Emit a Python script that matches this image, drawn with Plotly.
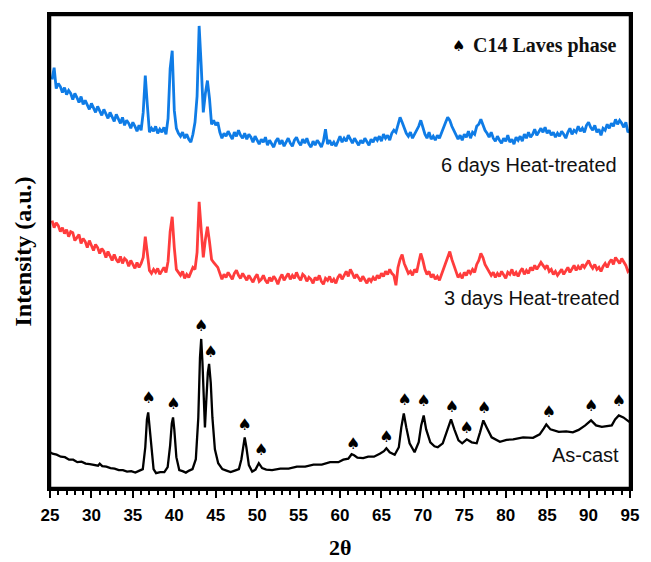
import plotly.graph_objects as go

# ---------------- data ----------------
two_theta_ht = [
    25.25, 25.5, 25.75,
    26, 26.25, 26.5, 26.75, 27, 27.25, 27.5, 27.75, 28, 28.25, 28.5, 28.75,
    29, 29.25, 29.5, 29.75, 30, 30.25, 30.5, 30.75, 31, 31.25, 31.5, 31.75,
    32, 32.25, 32.5, 32.75, 33, 33.25, 33.5, 33.75, 34, 34.25, 34.5, 34.75,
    35, 35.25, 35.5, 35.75, 36, 36.25, 36.5, 36.75, 37, 37.25, 37.5, 37.75,
    38, 38.25, 38.5, 38.75, 39, 39.25, 39.5, 39.75, 40, 40.25, 40.5, 40.75,
    41, 41.25, 41.5, 41.75, 42, 42.25, 42.5, 42.75, 43, 43.25, 43.5, 43.75,
    44, 44.25, 44.5, 44.75, 45, 45.25, 45.5, 45.75, 46, 46.25, 46.5, 46.75,
    47, 47.25, 47.5, 47.75, 48, 48.25, 48.5, 48.75, 49, 49.25, 49.5, 49.75,
    50, 50.25, 50.5, 50.75, 51, 51.25, 51.5, 51.75, 52, 52.25, 52.5, 52.75,
    53, 53.25, 53.5, 53.75, 54, 54.25, 54.5, 54.75, 55, 55.25, 55.5, 55.75,
    56, 56.25, 56.5, 56.75, 57, 57.25, 57.5, 57.75, 58, 58.25, 58.5, 58.75,
    59, 59.25, 59.5, 59.75, 60, 60.25, 60.5, 60.75, 61, 61.25, 61.5, 61.75,
    62, 62.25, 62.5, 62.75, 63, 63.25, 63.5, 63.75, 64, 64.25, 64.5, 64.75,
    65, 65.25, 65.5, 65.75, 66, 66.25, 66.5, 66.75, 67, 67.25, 67.5, 67.75,
    68, 68.25, 68.5, 68.75, 69, 69.25, 69.5, 69.75, 70, 70.25, 70.5, 70.75,
    71, 71.25, 71.5, 71.75, 72, 72.25, 72.5, 72.75, 73, 73.25, 73.5, 73.75,
    74, 74.25, 74.5, 74.75, 75, 75.25, 75.5, 75.75, 76, 76.25, 76.5, 76.75,
    77, 77.25, 77.5, 77.75, 78, 78.25, 78.5, 78.75, 79, 79.25, 79.5, 79.75,
    80, 80.25, 80.5, 80.75, 81, 81.25, 81.5, 81.75, 82, 82.25, 82.5, 82.75,
    83, 83.25, 83.5, 83.75, 84, 84.25, 84.5, 84.75, 85, 85.25, 85.5, 85.75,
    86, 86.25, 86.5, 86.75, 87, 87.25, 87.5, 87.75, 88, 88.25, 88.5, 88.75,
    89, 89.25, 89.5, 89.75, 90, 90.25, 90.5, 90.75, 91, 91.25, 91.5, 91.75,
    92, 92.25, 92.5, 92.75, 93, 93.25, 93.5, 93.75, 94, 94.25, 94.5, 94.75,
    95,
]

heat_treated_3_days = [
    268, 261, 266,
    263, 257, 261, 255, 259, 252, 257, 256, 248, 251, 254, 245,
    250, 247, 241, 248, 243, 238, 244, 241, 235, 240, 237, 231,
    237, 233, 228, 234, 229, 226, 232, 225, 230, 228, 222, 228,
    224, 220, 226, 221, 225, 231, 252, 233, 218, 215, 219, 216,
    220, 214, 218, 221, 216, 227, 257, 272, 241, 219, 216, 213,
    217, 210, 214, 211, 216, 221, 219, 236, 287, 263, 231, 249,
    262, 247, 229, 226, 224, 221, 215, 209, 214, 211, 216, 212,
    209, 215, 218, 213, 210, 215, 212, 208, 213, 210, 206, 211,
    214, 207, 209, 213, 208, 205, 211, 207, 212, 209, 204, 210,
    214, 208, 212, 215, 209, 213, 210, 216, 211, 208, 214, 212,
    207, 211, 209, 205, 211, 208, 213, 207, 204, 210, 208, 212,
    206, 209, 205, 211, 214, 209, 213, 217, 212, 219, 215, 210,
    214, 211, 207, 212, 209, 205, 210, 207, 211, 208, 213, 210,
    215, 212, 217, 214, 219, 215, 213, 203, 221, 229, 234, 225,
    220, 215, 217, 213, 219, 216, 226, 235, 228, 219, 214, 217,
    211, 214, 209, 212, 208, 214, 220, 225, 231, 237, 229, 223,
    217, 211, 214, 210, 216, 213, 218, 215, 219, 216, 224, 228,
    235, 231, 224, 220, 217, 213, 216, 211, 215, 212, 217, 213,
    210, 216, 214, 219, 213, 216, 212, 217, 220, 214, 218, 215,
    221, 218, 223, 219, 222, 226, 223, 220, 223, 217, 219, 214,
    217, 213, 216, 219, 214, 218, 221, 216, 220, 223, 218, 222,
    219, 224, 221, 225, 228, 223, 220, 224, 219, 221, 217, 222,
    225, 221, 226, 229, 224, 231, 228, 225, 230, 226, 223, 217,
    219,
]

heat_treated_6_days = [
    410, 422, 401,
    406, 403, 397, 402, 395, 399, 396, 390, 396, 392, 387, 393,
    385, 389, 384, 380, 386, 382, 377, 383, 378, 374, 380, 376,
    371, 377, 373, 368, 375, 370, 366, 372, 364, 369, 366, 361,
    367, 363, 358, 364, 359, 377, 414, 384, 357, 361, 358, 363,
    356, 360, 357, 362, 355, 371, 421, 439, 379, 361, 356, 353,
    357, 351, 355, 350, 347, 355, 367, 393, 464, 424, 377, 396,
    409, 391, 365, 369, 364, 367, 357, 351, 356, 353, 358, 354,
    350, 357, 353, 359, 354, 351, 356, 350, 355, 352, 347, 353,
    349, 345, 350, 347, 352, 344, 349, 345, 342, 348, 351, 345,
    349, 343, 347, 351, 346, 343, 349, 352, 347, 344, 350, 346,
    351, 345, 342, 348, 344, 349, 346, 342, 348, 360, 345, 349,
    344, 347, 343, 349, 353, 347, 351, 348, 354, 350, 346, 351,
    347, 344, 349, 346, 351, 348, 344, 350, 347, 352, 349, 353,
    348, 355, 351, 354, 349, 356, 359, 357, 365, 372, 367, 361,
    356, 353, 357, 351, 355, 358, 363, 369, 361, 355, 351, 357,
    350, 353, 349, 354, 351, 357, 361, 367, 372, 369, 363, 359,
    355, 350, 354, 349, 355, 352, 358, 351, 357, 355, 363, 365,
    370, 365, 359, 356, 352, 357, 351, 348, 353, 349, 346, 351,
    348, 354, 347, 350, 345, 352, 349, 353, 348, 355, 351, 357,
    352, 355, 360, 354, 358, 361, 357, 362, 356, 359, 354, 357,
    352, 356, 353, 358, 355, 351, 357, 361, 355, 359, 357, 363,
    358, 361, 357, 364, 367, 362, 359, 364, 357, 360, 354, 361,
    359, 365, 361, 366, 363, 370, 365, 369, 366, 362, 367, 357,
    359,
]

two_theta_cast = [
    25.0, 25.3, 25.8, 26.3, 26.8, 27.3, 27.8, 28.3, 28.8, 29.3,
    29.8, 30.3, 30.8, 31.0, 31.3, 31.8, 32.3, 32.8, 33.3, 33.8,
    34.3, 34.8, 35.3, 35.8, 36.2, 36.5, 36.7, 36.85, 37.0, 37.2,
    37.5, 37.8, 38.3, 38.8, 39.2, 39.5, 39.7, 39.85, 40.0, 40.25,
    40.6, 41.0, 41.4, 41.8, 42.2, 42.6, 42.9, 43.1, 43.25, 43.4,
    43.55, 43.7, 43.85, 44.05, 44.2, 44.4, 44.6, 44.9, 45.3, 45.8,
    46.3, 46.8, 47.3, 47.8, 48.1, 48.35, 48.5, 48.7, 49.0, 49.4,
    49.8, 50.2, 50.6, 51.1, 51.8, 52.8, 53.8, 54.8, 55.8, 56.8,
    57.8, 58.8, 59.8, 60.4, 61.0, 61.4, 61.7, 62.1, 62.8, 63.4,
    64.1, 64.8, 65.3, 65.6, 66.0, 66.6, 67.1, 67.4, 67.7, 68.0,
    68.4, 69.0, 69.5, 69.8, 70.1, 70.4, 70.9, 71.4, 71.8, 72.4,
    72.9, 73.4, 73.8, 74.3, 74.75, 75.3, 75.9, 76.5, 76.9, 77.3,
    77.7, 78.3, 79.3, 80.1, 80.9, 82.1, 83.3, 84.1, 84.6, 84.9,
    85.4, 86.4, 87.3, 88.1, 88.8, 89.6, 90.3, 90.9, 91.6, 92.2,
    92.8, 93.2, 93.65, 94.2, 95.0,
]

as_cast = [
    35, 33.5, 32.5, 30.5, 30, 27.5, 27.5, 25, 25.5, 23.5,
    23, 22.5, 21.5, 23.5, 21, 20.5, 19, 18.5, 17, 17,
    15.5, 16, 14.5, 16.5, 18, 40, 68, 75, 62, 38,
    18, 14, 15, 15, 20, 42, 64, 70, 58, 30,
    17, 16, 14.5, 16.5, 18, 28, 70, 130, 149, 125,
    80, 60, 85, 115, 124, 105, 70, 38, 24, 18,
    16.5, 15, 16.5, 18, 28, 45, 50, 40, 22, 15.5,
    17.5, 24, 19, 17.5, 17, 18.5, 18.5, 20.5, 20.5, 22.5,
    22.5, 25, 25, 27.5, 28.5, 33, 32, 29.5, 29, 30.5,
    30.5, 33.5, 36, 39, 35, 32.5, 40, 60, 74, 60,
    44, 35, 45, 62, 72, 58, 45, 41, 40, 44,
    55, 68, 58, 47, 44, 48, 45, 44, 55, 67,
    60, 50, 45.5, 47.5, 48, 50, 49.5, 53, 59, 63,
    58, 55.5, 56, 55, 57.5, 62, 67, 62, 60.5, 61,
    62, 68, 72, 70, 65,
]

laves_peak_x = [36.9, 39.9, 43.25, 44.4, 48.5, 50.5, 61.6, 65.6,
                67.8, 70.1, 73.5, 75.3, 77.4, 85.2, 90.3, 93.65]
laves_marker_y = [88.7, 82.7, 161, 134.7, 61, 36.3, 42, 49.7,
                  87, 85.3, 79.3, 58.7, 78.7, 74.3, 80.3, 85.3]

x_ticks = [25, 30, 35, 40, 45, 50, 55, 60, 65, 70, 75, 80, 85, 90, 95]
series_labels = ["6 days Heat-treated", "3 days Heat-treated", "As-cast"]
series_label_x = [93.66, 94.06, 93.86]
series_label_y = [324, 190, 32]

assert len(two_theta_ht) == len(heat_treated_3_days) == len(heat_treated_6_days)
assert len(two_theta_cast) == len(as_cast)
assert len(laves_peak_x) == len(laves_marker_y)

# ---------------- figure ----------------
fig = go.Figure()

fig.add_trace(go.Scatter(x=two_theta_ht, y=heat_treated_6_days, mode="lines",
                         line=dict(color="#0f7ce6", width=2.8), name="6 days"))
fig.add_trace(go.Scatter(x=two_theta_ht, y=heat_treated_3_days, mode="lines",
                         line=dict(color="#ff3c3c", width=2.8), name="3 days"))
fig.add_trace(go.Scatter(x=two_theta_cast, y=as_cast, mode="lines",
                         line=dict(color="#000000", width=2.3), name="As-cast"))
fig.add_trace(go.Scatter(x=laves_peak_x, y=laves_marker_y, mode="text",
                         text=["\u2660"] * len(laves_peak_x),
                         textposition="middle center",
                         textfont=dict(family="DejaVu Sans", size=16, color="black"),
                         name="C14"))

serif = "Liberation Serif, Times New Roman, serif"
sans = "Liberation Sans, Arial, sans-serif"

for txt, xx, yy in zip(series_labels, series_label_x, series_label_y):
    fig.add_annotation(x=xx, y=yy, xref="x", yref="y", text=txt,
                       showarrow=False, xanchor="right", yanchor="middle",
                       font=dict(family=sans, size=20, color="#111111"))

fig.add_annotation(x=93.5, y=444, xref="x", yref="y",
                   text="<b>C14 Laves phase</b>", showarrow=False,
                   xanchor="right", yanchor="middle",
                   font=dict(family=serif, size=20, color="#111111"))
fig.add_annotation(x=74.3, y=444, xref="x", yref="y",
                   text="\u2660", showarrow=False, xanchor="center", yanchor="middle",
                   font=dict(family="DejaVu Sans", size=15, color="black"))

# axis titles
fig.add_annotation(x=0.5, y=0, xref="paper", yref="paper", yshift=-59,
                   text="<b>2\u03b8</b>", showarrow=False, yanchor="middle",
                   font=dict(family=serif, size=22, color="black"))
fig.add_annotation(x=0, y=0.5, xref="paper", yref="paper", xshift=-28,
                   text="<b>Intensity (a.u.)</b>", showarrow=False, textangle=-90,
                   xanchor="center", yanchor="middle",
                   font=dict(family=serif, size=24, color="black"))

# plot frame
fig.add_shape(type="rect", xref="paper", yref="paper", x0=0, x1=1, y0=0, y1=1,
              line=dict(color="black", width=2.5), fillcolor="rgba(0,0,0,0)",
              layer="above")

fig.update_layout(
    width=651, height=562,
    margin=dict(l=50, r=12, t=12, b=74),
    paper_bgcolor="white", plot_bgcolor="white",
    showlegend=False,
    xaxis=dict(range=[25, 95], tickvals=x_ticks, ticktext=[str(v) for v in x_ticks],
               showline=True, linecolor="black", linewidth=2.5, mirror=True,
               ticks="outside", ticklen=7, tickwidth=2, tickcolor="black",
               ticklabelstandoff=3,
               minor=dict(dtick=1, ticks="outside", ticklen=4, tickwidth=1.5,
                          tickcolor="black"),
               showgrid=False, zeroline=False,
               tickfont=dict(family=sans, size=17, color="black", weight="bold")),
    yaxis=dict(range=[-1, 475], showline=True, linecolor="black", linewidth=2.5,
               mirror=True, showticklabels=False, ticks="", showgrid=False,
               zeroline=False),
)

fig.write_html("out.html",
               config={"displayModeBar": False},
               post_script="document.body.style.margin='0';"
                           "document.body.style.overflow='hidden';")
